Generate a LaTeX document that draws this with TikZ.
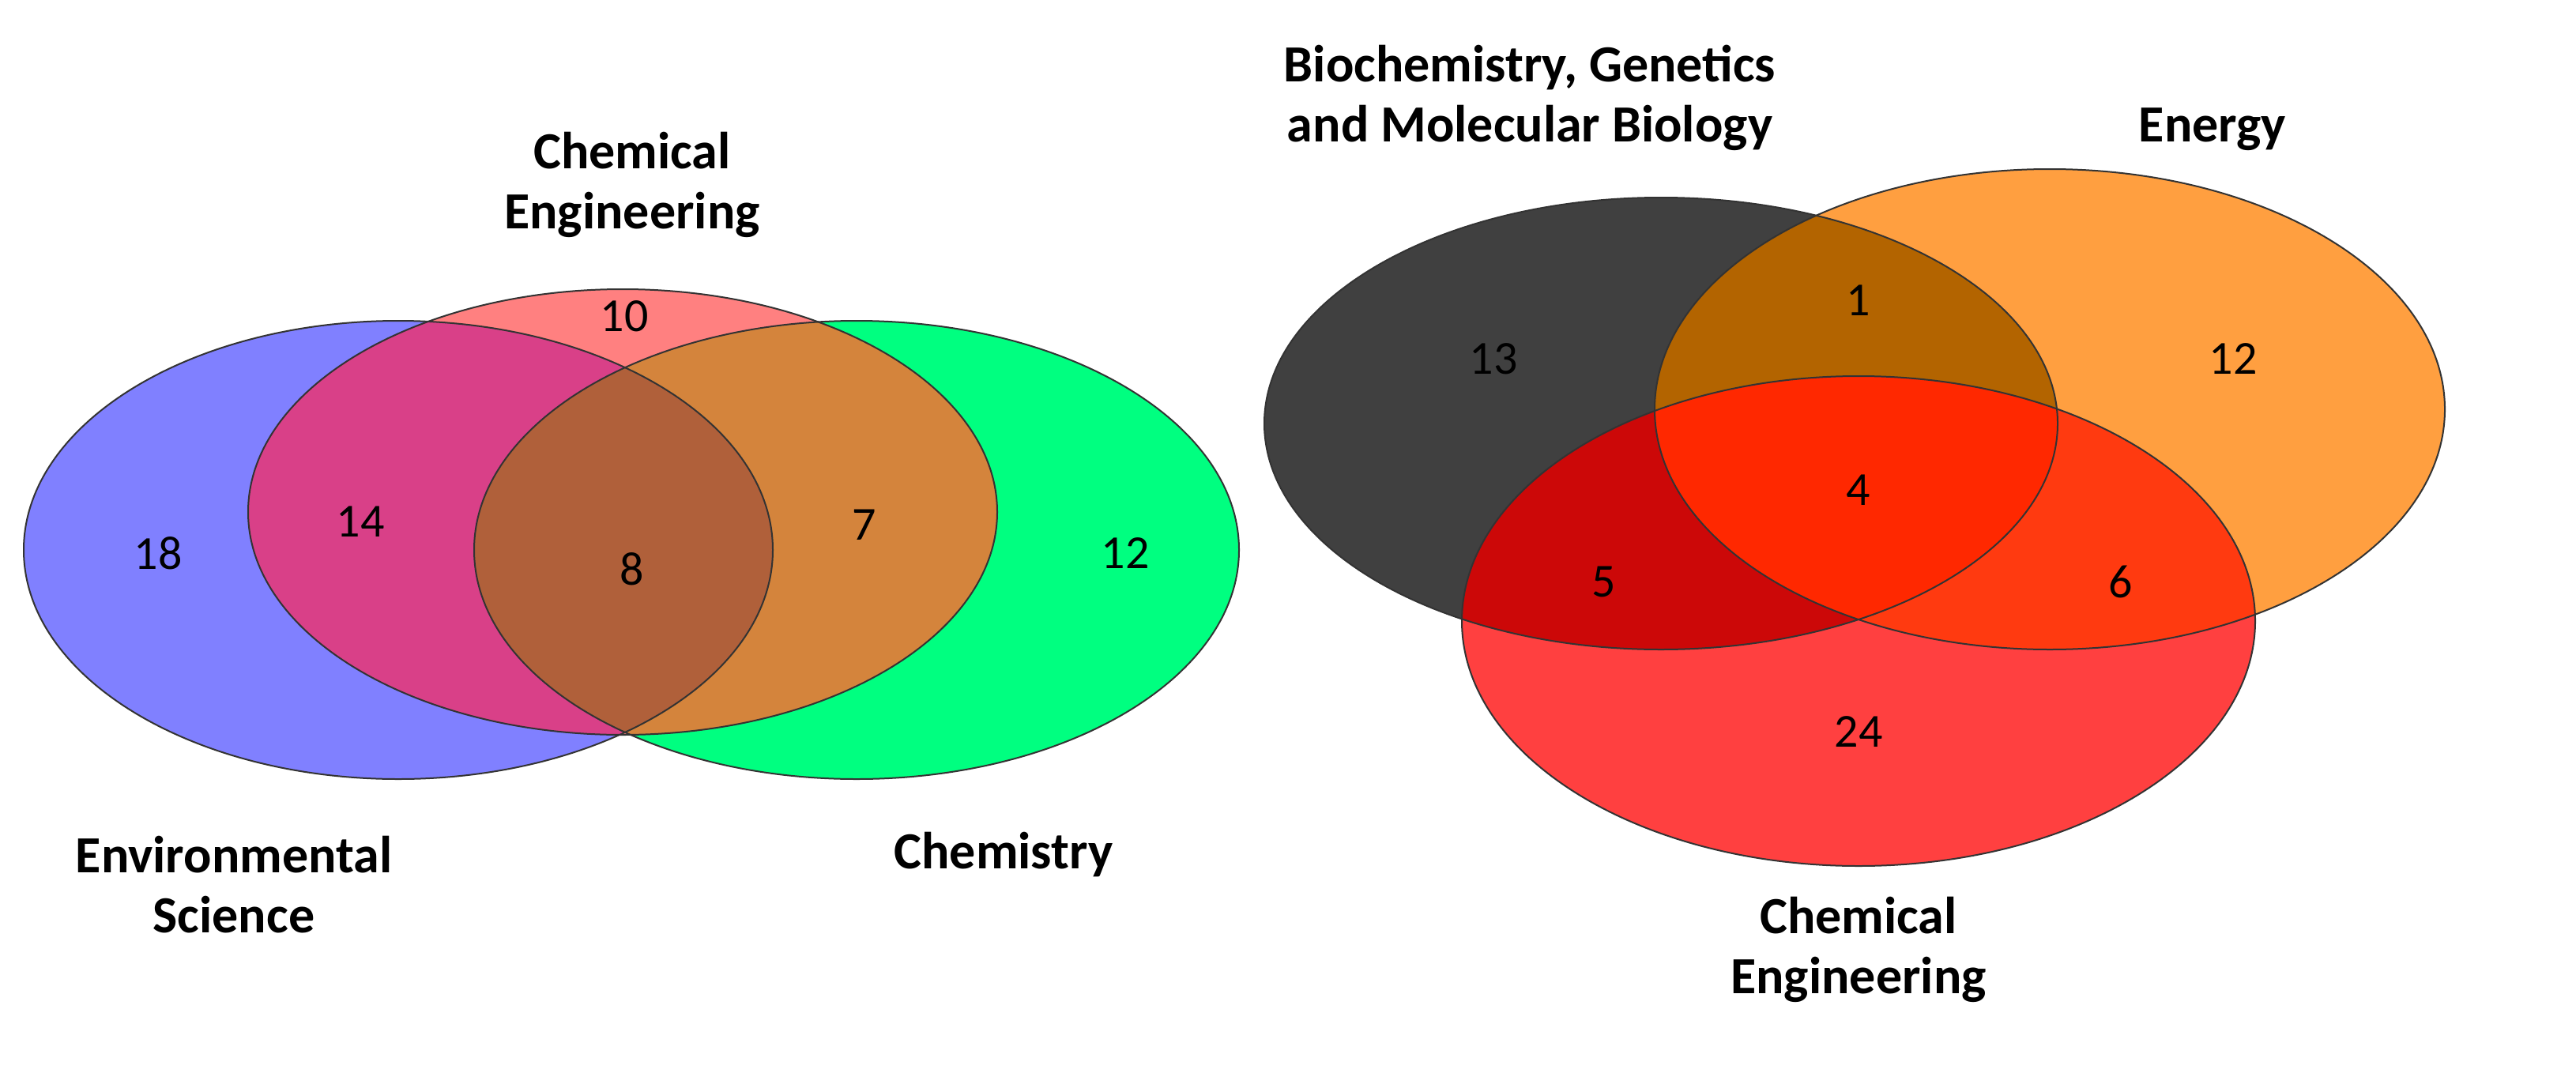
\documentclass[tikz,border=0pt]{standalone}
\usepackage{fontspec}
\setmainfont{Carlito}
\begin{document}
\begin{tikzpicture}[x=1pt,y=-1pt,
  lab/.style={font=\fontsize{33}{38}\selectfont\bfseries,align=center},
  num/.style={font=\fontsize{30}{34}\selectfont},
  edge/.style={draw=black!80,line width=1pt}]
\useasboundingbox (0,0) rectangle (1630,688);
\definecolor{cblue}{HTML}{8080FF}\definecolor{cpink}{HTML}{FF8080}
\definecolor{cgreen}{HTML}{00FF80}\definecolor{cbp}{HTML}{D94088}
\definecolor{cpg}{HTML}{D4843C}\definecolor{cbpg}{HTML}{B0603A}
\definecolor{cdark}{HTML}{404040}\definecolor{corange}{HTML}{FF9F40}
\definecolor{cred}{HTML}{FF4040}\definecolor{cdo}{HTML}{B36400}
\definecolor{cdr}{HTML}{CC0808}\definecolor{cor}{HTML}{FF3A10}
\definecolor{call}{HTML}{FF2800}
\def\EB{(252,348) ellipse [x radius=237,y radius=145]}
\def\EP{(394,324) ellipse [x radius=237,y radius=141]}
\def\EG{(542,348) ellipse [x radius=242,y radius=145]}
\def\ED{(1051,268) ellipse [x radius=251,y radius=143]}
\def\EO{(1297,259) ellipse [x radius=250,y radius=152]}
\def\ER{(1176,393) ellipse [x radius=251,y radius=155]}
% left
\fill[cblue] \EB; \fill[cgreen] \EG; \fill[cpink] \EP;
\begin{scope}\clip \EB; \fill[cbp] \EP; \end{scope}
\begin{scope}\clip \EG; \fill[cpg] \EP; \end{scope}
\begin{scope}\clip \EB; \clip \EG; \fill[cbpg] \EP; \end{scope}
\path[edge] \EB; \path[edge] \EP; \path[edge] \EG;
% right
\fill[cdark] \ED; \fill[corange] \EO; \fill[cred] \ER;
\begin{scope}\clip \ED; \fill[cdo] \EO; \fill[cdr] \ER; \end{scope}
\begin{scope}\clip \EO; \fill[cor] \ER; \end{scope}
\begin{scope}\clip \ED; \clip \EO; \fill[call] \ER; \end{scope}
\path[edge] \ED; \path[edge] \EO; \path[edge] \ER;
% labels
\node[lab] (l1) at (400,117) {Chemical\\Engineering};
\node[lab] (l2) at (148,560) {Environmental\\Science};
\node[lab] (l3) at (635,541) {Chemistry};
\node[lab] (l4) at (968,62) {Biochemistry, Genetics\\and Molecular Biology};
\node[lab] (l5) at (1400,82) {Energy};
\node[lab] (l6) at (1176,601) {Chemical\\Engineering};
\node[num] (n1) at (395,200) {10};
\node[num] (n2) at (100,350) {18};
\node[num] (n3) at (228,330) {14};
\node[num] (n4) at (400,360) {8};
\node[num] (n5) at (547,332) {7};
\node[num] (n6) at (712,350) {12};
\node[num] (m1) at (945,227) {13};
\node[num] (m2) at (1176,190) {1};
\node[num] (m3) at (1413,227) {12};
\node[num] (m4) at (1176,310) {4};
\node[num] (m5) at (1015,368) {5};
\node[num] (m6) at (1342,368) {6};
\node[num] (m7) at (1176,463) {24};
\end{tikzpicture}
\end{document}
